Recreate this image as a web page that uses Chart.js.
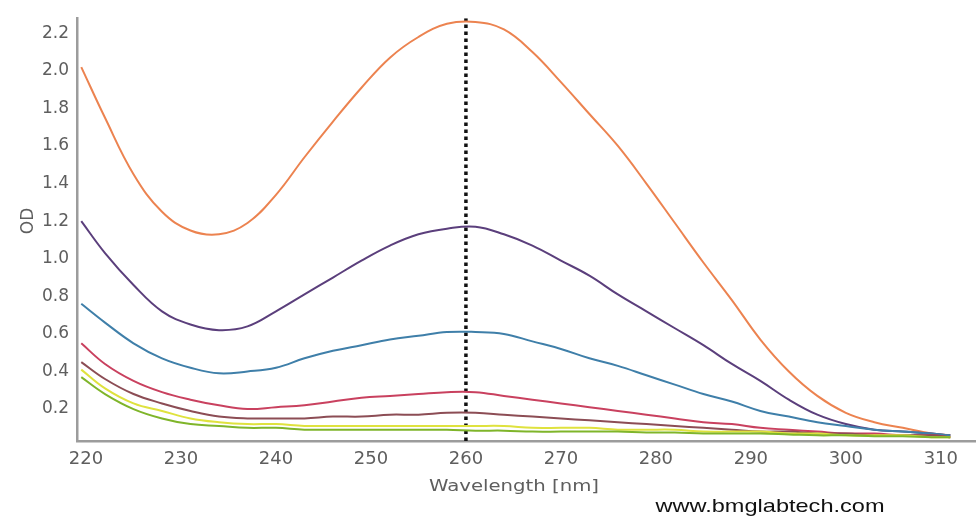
<!DOCTYPE html>
<html>
<head>
<meta charset="utf-8">
<script src="https://cdn.jsdelivr.net/npm/chart.js@4"></script>
<style>
html,body{margin:0;padding:0;background:#fff;}
#wrap{width:976px;height:519px;position:relative;}
</style>
</head>
<body>
<div id="wrap"><canvas id="c" width="976" height="519"></canvas></div>
<script>
const wavelengths = [219.5,222,225,228,231,234,237,240,243,246,249,252,255,258,261,264,267,270,273,276,279,282,285,288,291,294,297,300,303,306,309,311];
const orangeOD = [2.02,1.75,1.45,1.25,1.15,1.13,1.19,1.34,1.54,1.73,1.91,2.07,2.18,2.25,2.26,2.22,2.10,1.94,1.77,1.60,1.40,1.19,0.98,0.78,0.57,0.40,0.27,0.18,0.13,0.10,0.07,0.06];
const purpleOD = [1.20,1.03,0.86,0.72,0.65,0.62,0.64,0.72,0.81,0.90,0.99,1.07,1.13,1.16,1.17,1.13,1.07,0.99,0.91,0.81,0.72,0.63,0.54,0.44,0.35,0.25,0.17,0.12,0.09,0.08,0.07,0.06];
const blueOD = [0.76,0.66,0.55,0.47,0.42,0.39,0.40,0.42,0.47,0.51,0.54,0.57,0.59,0.61,0.61,0.60,0.56,0.52,0.47,0.43,0.38,0.33,0.28,0.24,0.19,0.16,0.13,0.11,0.09,0.08,0.07,0.06];
const redOD = [0.55,0.44,0.35,0.29,0.25,0.22,0.20,0.21,0.22,0.24,0.26,0.27,0.28,0.29,0.29,0.27,0.25,0.23,0.21,0.19,0.17,0.15,0.13,0.12,0.10,0.09,0.08,0.07,0.07,0.06,0.06,0.05];
const brownOD = [0.45,0.36,0.28,0.23,0.19,0.16,0.15,0.15,0.15,0.16,0.16,0.17,0.17,0.18,0.18,0.17,0.16,0.15,0.14,0.13,0.12,0.11,0.10,0.09,0.08,0.08,0.07,0.07,0.06,0.06,0.06,0.05];
const yellowOD = [0.41,0.31,0.23,0.19,0.15,0.13,0.12,0.12,0.11,0.11,0.11,0.11,0.11,0.11,0.11,0.11,0.10,0.10,0.10,0.09,0.09,0.09,0.08,0.08,0.08,0.07,0.07,0.06,0.06,0.06,0.05,0.05];
const greenOD = [0.37,0.28,0.20,0.15,0.12,0.11,0.10,0.10,0.09,0.09,0.09,0.09,0.09,0.09,0.085,0.085,0.08,0.08,0.08,0.08,0.075,0.075,0.07,0.07,0.07,0.065,0.06,0.06,0.055,0.055,0.05,0.05];
const markerWavelength = [260, 260];
const markerOD = [0.03, 2.28];
const xTicks = [220,230,240,250,260,270,280,290,300,310];
const yTicks = [0.2,0.4,0.6,0.8,1.0,1.2,1.4,1.6,1.8,2.0,2.2];

function pts(xs, ys){ return xs.map((x,i)=>({x:x, y:ys[i]})); }
function series(data, color){
  return {data: pts(wavelengths, data), borderColor: color, borderWidth: 2, pointRadius: 0,
          tension: 0.4, fill: false};
}

function stretchedText(ctx, text, cx, cy, targetWidth){
  const w = ctx.measureText(text).width;
  const sx = targetWidth / w;
  ctx.save();
  ctx.translate(cx, cy);
  ctx.scale(sx, 1);
  ctx.fillText(text, 0, 0);
  ctx.restore();
}

const textPlugin = {
  id: 'texts',
  afterDraw(chart){
    const ctx = chart.ctx;
    ctx.save();
    ctx.textAlign = 'center';
    ctx.textBaseline = 'middle';
    ctx.fillStyle = '#5e5e5e';
    ctx.font = '16px "DejaVu Sans"';
    stretchedText(ctx, 'Wavelength [nm]', 514, 487, 170);
    ctx.font = '17px "DejaVu Sans"';
    ctx.save();
    ctx.translate(29, 221);
    ctx.rotate(-Math.PI/2);
    ctx.fillText('OD', 0, 0);
    ctx.restore();
    ctx.fillStyle = '#111';
    ctx.font = '18.5px "Liberation Sans"';
    stretchedText(ctx, 'www.bmglabtech.com', 770, 507, 229);
    ctx.restore();
  }
};

new Chart(document.getElementById('c'), {
  type: 'line',
  data: {
    datasets: [
      series(greenOD, '#7fb52a'),
      series(yellowOD, '#dfe23e'),
      series(brownOD, '#8c4d55'),
      series(redOD, '#c9415f'),
      series(blueOD, '#3f7fa9'),
      series(purpleOD, '#5b3f7c'),
      series(orangeOD, '#ec8350'),
      {data: pts(markerWavelength, markerOD), borderColor: '#111', borderWidth: 3.5,
       borderDash: [3.5, 3.5], pointRadius: 0, fill: false}
    ]
  },
  plugins: [textPlugin],
  options: {
    responsive: false,
    animation: false,
    layout: {padding: {left: 0, top: 13, right: 1, bottom: 0}},
    plugins: {legend: {display: false}, tooltip: {enabled: false}},
    scales: {
      x: {
        type: 'linear', min: 219.05, max: 313.6,
        afterBuildTicks(s){ s.ticks = xTicks.map(v=>({value:v})); },
        afterFit(s){ s.height = 78; },
        grid: {display: false, drawTicks: false},
        border: {display: true, color: '#9c9c9c', width: 2.5},
        ticks: {color: '#5e5e5e', font: {family: 'DejaVu Sans', size: 18}, padding: 8,
                maxRotation: 0, autoSkip: false}
      },
      y: {
        type: 'linear', min: 0.03, max: 2.28,
        afterBuildTicks(s){ s.ticks = yTicks.map(v=>({value:v})); },
        afterFit(s){ s.width = 77; },
        grid: {display: false, drawTicks: false},
        border: {display: true, color: '#9c9c9c', width: 2.5},
        ticks: {color: '#5e5e5e', font: {family: 'DejaVu Sans', size: 17}, padding: 8,
                callback: v => v.toFixed(1)}
      }
    }
  }
});
</script>
</body>
</html>
